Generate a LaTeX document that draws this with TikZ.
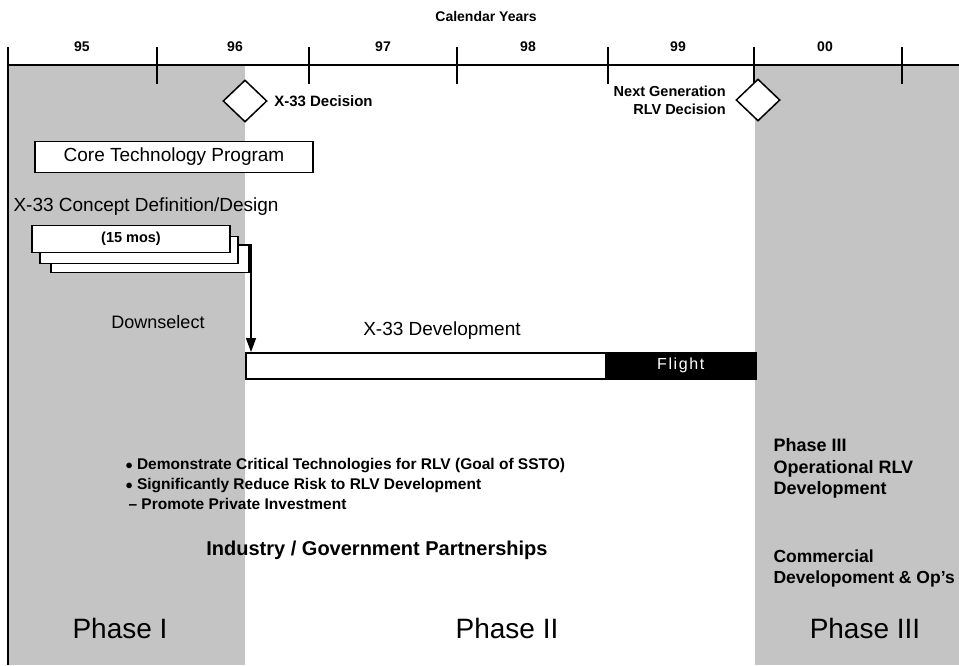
\documentclass[tikz,border=0pt]{standalone}
\usepackage{fontspec}
\setmainfont{Liberation Sans}
\usetikzlibrary{shapes.geometric, arrows.meta, positioning, calc}
\definecolor{phasegray}{RGB}{196,196,196}

\tikzset{
  yearlabel/.style={font=\fontsize{14}{16}\selectfont\bfseries},
  milestone/.style={diamond, draw, fill=white, line width=1.5pt, minimum width=44pt, minimum height=42pt, inner sep=0pt},
  taskbox/.style={draw, line width=1.5pt, fill=white, inner sep=0pt},
  bigtext/.style={font=\fontsize{19}{21}\selectfont},
  phaselabel/.style={font=\fontsize{28}{30}\selectfont},
  notetext/.style={font=\fontsize{15.5}{20}\selectfont\bfseries, align=left}
}

\begin{document}
\begin{tikzpicture}[x=1pt, y=-1pt]
    \useasboundingbox (0,0) rectangle (959,665);

    % phase shading
    \fill[phasegray] (8,66) rectangle (245,665);
    \fill[phasegray] (755,66) rectangle (959,665);

    % calendar axis
    \node[font=\fontsize{14}{16}\selectfont\bfseries] (caltitle) at (486,16) {Calendar Years};
    \draw[line width=1.3pt] (8,65) -- (959,65);
    \draw[line width=1.3pt] (8,47) -- (8,665);
    \foreach \tx in {157,309,457,608,754,902}
        \draw[line width=1.3pt] (\tx,47) -- (\tx,84);
    \foreach \yr/\yx in {95/82, 96/235, 97/383, 98/528, 99/678, 00/825}
        \node[yearlabel] (yr\yr) at (\yx,47) {\yr};

    % milestones
    \node[milestone] (x33dec) at (245,101) {};
    \node[font=\fontsize{15}{17}\selectfont\bfseries, right=3pt of x33dec] (x33dectext) {X-33 Decision};
    \node[milestone] (rlvdec) at (758,100) {};
    \node[font=\fontsize{14.5}{18}\selectfont\bfseries, align=right, left=6pt of rlvdec] (rlvdectext) {Next Generation\\RLV Decision};

    % Phase I tasks
    \node[taskbox, bigtext, minimum width=278pt, minimum height=31pt] (coretech) at (174,157) {Core Technology Program};
    \node[bigtext, anchor=west] (concept) at (10,207) {X-33 Concept Definition/Design};
    \node[taskbox, minimum width=198pt, minimum height=27pt] (concept3) at (150,259) {};
    \node[taskbox, minimum width=198pt, minimum height=27pt] (concept2) at (139,250) {};
    \node[taskbox, minimum width=198pt, minimum height=27pt, font=\fontsize{14.5}{16}\selectfont\bfseries] (concept1) at (131,239) {(15 mos)};
    \node[font=\fontsize{18}{20}\selectfont] (downselect) at (158,322) {Downselect};

    % Phase II development
    \node[taskbox, anchor=north west, minimum width=362pt, minimum height=26pt] (devbar) at (245,352) {};
    \node[draw, line width=1.5pt, fill=black, text=white, anchor=north west, minimum width=150pt, minimum height=26pt, inner sep=0pt, font=\fontsize{16}{18}\selectfont\addfontfeatures{LetterSpace=10}] (flight) at (605,352) {Flight};
    \node[bigtext] (devtext) at (442,331) {X-33 Development};
    \draw[line width=1.5pt, -{Triangle[width=10pt, length=14pt]}] ($(concept2.north east)+(0,9)$) -| ($(devbar.north west)+(6,0)$);

    % goals
    \node[notetext, anchor=north west] (goals) at (122,455) {%
        $\bullet$ Demonstrate Critical Technologies for RLV (Goal of SSTO)\\
        $\bullet$ Significantly Reduce Risk to RLV Development\\
        \hspace*{3pt}-- Promote Private Investment};
    \node[font=\fontsize{20}{22}\selectfont\bfseries] (partners) at (377,550) {Industry / Government Partnerships};

    % Phase III notes
    \node[font=\fontsize{18}{21.5}\selectfont\bfseries, align=left, anchor=north west] (ops) at (770,435) {Phase III\\Operational RLV\\Development};
    \node[font=\fontsize{17.5}{21}\selectfont\bfseries, align=left, anchor=north west] (commercial) at (770,546) {Commercial\\Developoment \& Op's};

    % phase labels
    \node[phaselabel] (phase1) at (120,628) {Phase I};
    \node[phaselabel] (phase2) at (507,628) {Phase II};
    \node[phaselabel] (phase3) at (865,628) {Phase III};
\end{tikzpicture}
\end{document}
